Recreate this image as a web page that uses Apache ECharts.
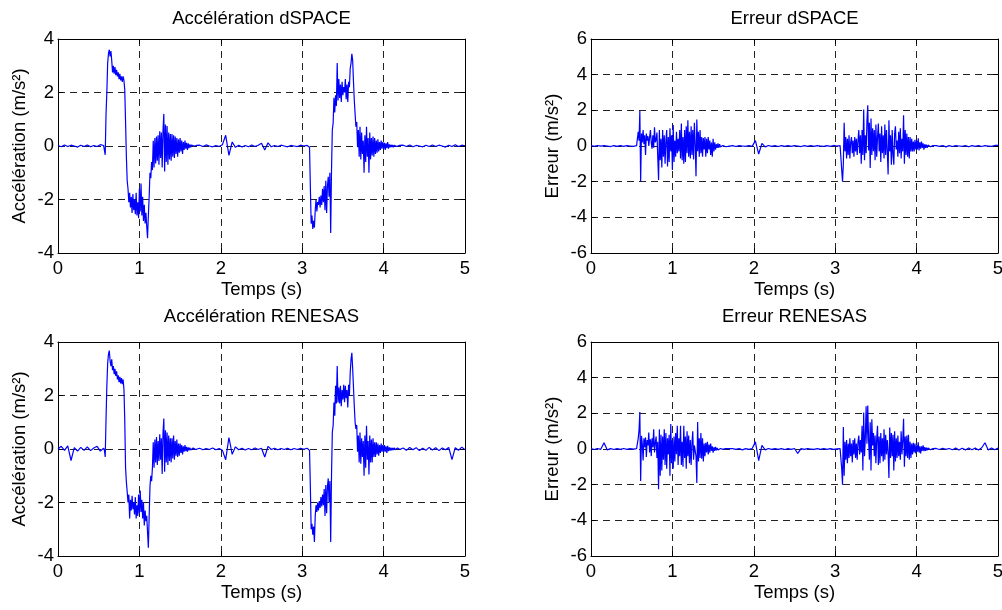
<!DOCTYPE html>
<html><head><meta charset="utf-8">
<script src="https://cdn.jsdelivr.net/npm/echarts@6/dist/echarts.min.js"></script>
<style>html,body{margin:0;padding:0;background:#fff}#c{width:1002px;height:610px}</style>
</head><body><div id="c"></div><script>
// sample times (s)
const T = [
0,0.04,0.08,0.12,0.16,0.20,0.24,0.28,0.32,0.36,0.40,0.44,0.48,0.52,
0.56,0.57,0.58,0.59,0.60,0.61,0.62,0.63,0.64,0.65,
0.66,0.67,0.68,0.69,0.70,0.71,0.72,0.73,0.74,0.75,
0.76,0.77,0.78,0.79,0.80,0.81,0.82,0.83,0.84,0.85,
0.86,0.87,0.88,0.89,0.90,0.91,0.92,0.93,0.94,0.95,
0.96,0.97,0.98,0.99,1.00,1.01,1.02,1.03,1.04,1.05,
1.06,1.07,1.08,1.09,1.10,1.11,1.12,1.13,1.14,1.15,
1.16,1.17,1.18,1.19,1.20,1.21,1.22,1.23,1.24,1.25,
1.26,1.27,1.28,1.29,1.30,1.31,1.32,1.33,1.34,1.35,
1.36,1.37,1.38,1.39,1.40,1.41,1.42,1.43,1.44,1.45,
1.46,1.47,1.48,1.49,1.50,1.51,1.52,1.53,1.54,1.55,
1.56,1.57,1.58,1.59,1.60,1.61,1.62,1.63,1.64,1.65,
1.66,1.67,1.68,1.69,1.70,
1.74,1.78,1.82,1.86,1.90,1.94,1.98,2.02,2.06,2.10,2.14,2.18,2.22,2.26,2.30,2.34,2.38,2.42,2.46,2.50,2.54,2.58,2.62,2.66,2.70,2.74,2.78,2.82,2.86,2.90,2.94,2.98,3.02,
3.06,3.07,3.08,3.09,3.10,3.11,3.12,3.13,3.14,3.15,
3.16,3.17,3.18,3.19,3.20,3.21,3.22,3.23,3.24,3.25,
3.26,3.27,3.28,3.29,3.30,3.31,3.32,3.33,3.34,3.35,
3.36,3.37,3.38,3.39,3.40,3.41,3.42,3.43,3.44,3.45,
3.46,3.47,3.48,3.49,3.50,3.51,3.52,3.53,3.54,3.55,
3.56,3.57,3.58,3.59,3.60,3.61,3.62,3.63,3.64,3.65,
3.66,3.67,3.68,3.69,3.70,3.71,3.72,3.73,3.74,3.75,
3.76,3.77,3.78,3.79,3.80,3.81,3.82,3.83,3.84,3.85,
3.86,3.87,3.88,3.89,3.90,3.91,3.92,3.93,3.94,3.95,
3.96,3.97,3.98,3.99,4.00,4.01,4.02,4.03,4.04,4.05,
4.06,4.07,4.08,4.09,4.10,4.11,4.12,4.13,4.14,4.15,
4.16,4.17,4.18,4.19,4.20,
4.24,4.28,4.32,4.36,4.40,4.44,4.48,4.52,4.56,4.60,4.64,4.68,4.72,4.76,4.80,4.84,4.88,4.92,4.96,5.00
];

// Accélération dSPACE (m/s²)
const accDSPACE = [
0.02,-0.03,0.04,-0.02,0.03,0.0,-0.04,0.03,-0.02,0.04,-0.03,0.02,-0.02,0.05,
0.02,-0.03,-0.33,1.2,2.0,3.1,3.45,3.6,3.35,3.55,
3.2,2.75,3.0,2.7,2.95,2.65,2.85,2.6,2.75,2.5,
2.7,2.45,2.6,2.4,2.6,2.45,2.1,0.9,-0.4,-1.3,
-1.6,-2.1,-1.75,-2.3,-1.9,-2.5,-1.8,-2.4,-2.0,-2.55,
-1.75,-2.6,-2.1,-2.7,-1.6,-2.45,-1.4,-2.6,-1.9,-2.8,
-2.2,-2.9,-2.5,-3.0,-3.45,-2.6,-1.9,-1.0,-1.2,-0.6,
-0.9,0.2,-0.8,0.3,-0.65,0.35,-0.55,0.4,-0.7,0.55,
-0.45,0.5,-0.8,0.6,1.2,-0.95,0.8,-0.6,0.75,-0.7,
0.5,-0.5,0.45,-0.55,0.45,-0.4,0.4,-0.45,0.35,-0.3,
0.3,-0.4,0.25,-0.25,0.3,-0.2,0.2,-0.3,0.15,-0.15,
0.2,-0.1,0.12,-0.15,0.1,-0.08,0.06,-0.05,0.04,-0.03,
0.05,0.0,0.03,-0.02,0.02,
0.03,-0.02,0.04,0.0,-0.03,0.02,-0.02,0.05,0.4,-0.35,0.15,-0.05,0.03,-0.04,0.02,-0.03,0.04,-0.02,0.03,0.1,-0.15,0.12,-0.03,0.02,-0.02,0.03,0.0,-0.03,0.02,0.0,-0.02,0.03,0.0,
0.02,-0.02,0.03,-0.05,-1.5,-2.9,-2.6,-3.1,-2.8,-3.05,
-2.4,-2.0,-2.45,-2.1,-2.2,-1.9,-2.3,-1.85,-2.2,-1.6,
-2.1,-1.5,-2.4,-1.3,-2.5,-1.5,-1.15,-1.9,-1.0,-3.25,
-0.9,0.6,0.85,1.8,1.25,1.9,1.5,3.1,1.7,2.5,
1.8,2.3,1.65,2.4,1.9,2.2,2.0,2.5,1.75,2.3,
1.65,2.4,2.2,2.9,3.1,3.45,3.2,2.4,1.7,1.2,
0.72,0.9,-0.05,0.6,-0.4,0.72,-0.5,0.5,-0.3,0.2,
-1.0,0.4,-0.6,0.72,-0.4,0.3,-1.0,0.5,-0.5,0.3,
-0.35,0.35,-0.4,0.3,-0.3,0.2,-0.25,0.25,-0.2,0.15,
-0.15,0.2,-0.1,0.15,-0.1,0.12,-0.15,0.1,-0.08,0.15,
-0.1,0.06,-0.05,0.05,-0.04,0.04,-0.05,0.03,-0.02,0.04,
-0.02,0.03,-0.01,0.02,0.0,
0.03,-0.02,0.04,-0.03,0.02,0.0,-0.03,0.03,-0.02,0.04,-0.02,0.03,0.0,-0.04,0.03,-0.02,0.05,-0.02,0.03,0.01
];

// Erreur dSPACE (m/s²)
const errDSPACE = [
0.02,-0.02,0.03,-0.01,0.02,0.0,-0.03,0.02,-0.02,0.03,-0.02,0.02,0.0,-0.02,
0.02,0.1,0.8,0.3,1.96,-1.98,0.7,0.2,0.9,0.1,
0.6,-0.5,0.7,0.3,0.55,0.0,0.5,0.9,0.2,-0.15,
0.6,-0.1,1.05,0.2,0.35,0.75,-0.6,-1.9,0.9,-0.8,
0.4,-1.2,0.9,-0.6,0.6,-1.0,0.3,0.9,-1.15,0.5,
-0.9,1.0,-0.3,0.6,-1.35,1.17,-0.9,0.3,-0.6,0.8,
-0.4,0.4,-0.3,0.9,-0.7,1.26,-0.8,0.5,-1.0,0.9,
-0.9,1.1,-0.4,1.44,-0.6,0.8,-0.7,1.1,-0.5,0.9,
-0.75,1.3,0.1,-1.7,1.48,-0.3,0.8,-0.6,0.9,-0.4,
0.5,-0.6,0.45,-0.2,0.5,-0.6,0.4,-0.4,0.5,-0.2,
0.3,-0.5,0.2,-0.6,0.4,-0.3,0.2,-0.2,0.1,-0.1,
0.15,-0.1,0.1,-0.05,0.04,-0.02,0.03,-0.02,0.02,-0.03,
0.02,0.0,-0.02,0.02,0.0,
0.02,-0.03,0.02,0.0,-0.02,0.03,-0.02,0.3,-0.45,0.15,-0.05,0.03,-0.02,0.02,-0.03,0.02,-0.02,0.03,-0.02,0.02,0.0,-0.03,0.02,-0.02,0.03,-0.02,0.02,0.0,-0.02,0.02,-0.02,0.03,0.0,
0.02,-0.02,0.05,-2.0,-1.0,1.3,-0.3,0.5,-0.7,0.4,
-0.5,0.6,-0.7,0.2,0.5,-0.4,0.3,-0.6,0.5,-0.3,
0.4,-0.5,0.3,0.9,-0.4,0.6,-1.0,0.9,-0.5,2.04,
-0.8,0.6,-0.4,1.4,2.28,-0.25,1.3,-1.24,1.54,-0.5,
1.0,-0.3,0.9,-0.8,1.2,-0.6,0.5,1.26,-0.3,0.7,
-0.9,1.1,-0.4,0.6,-0.7,1.2,-0.5,0.9,-0.3,-1.6,
1.44,-0.3,0.6,-1.05,0.9,-0.5,-1.05,0.7,1.1,-0.2,
0.3,-0.6,0.8,-0.4,1.0,-0.7,0.4,-0.3,1.72,-1.0,
0.9,-0.5,0.7,-0.6,0.5,-0.7,0.5,-0.3,0.4,-0.3,
0.25,-0.3,0.35,-0.2,0.3,-0.2,0.43,-0.25,0.2,-0.15,
0.25,-0.1,0.15,-0.2,0.1,-0.1,0.08,-0.1,0.05,-0.05,
0.06,-0.04,0.03,-0.03,0.02,
0.02,-0.02,0.03,-0.05,0.02,-0.03,0.02,0.0,-0.02,0.03,-0.04,0.02,-0.02,0.03,-0.03,0.02,0.0,-0.02,0.03,0.04
];

// Accélération RENESAS (m/s²)
const accRENESAS = [
0.0,0.1,-0.05,0.12,-0.43,0.05,-0.08,0.06,-0.05,0.08,-0.06,0.04,0.1,-0.08,
0.03,-0.05,-0.3,1.1,2.36,3.2,3.54,3.68,3.3,3.1,
3.35,2.95,3.1,2.8,3.0,2.73,2.9,2.6,2.75,2.5,
2.7,2.45,2.65,2.42,2.6,2.24,1.1,-0.7,-1.24,-1.6,
-2.0,-1.7,-2.6,-1.9,-2.3,-1.75,-2.25,-2.0,-2.45,-1.8,
-2.6,-2.1,-2.5,-1.7,-2.4,-1.55,-2.35,-1.9,-2.6,-2.0,
-2.86,-2.3,-2.7,-2.5,-3.1,-3.69,-2.5,-1.4,-1.0,-1.2,
-0.7,0.25,-0.7,0.35,-0.5,0.45,-0.6,0.3,-0.45,0.55,
-0.4,0.4,-0.93,0.6,1.14,-0.85,0.7,-0.5,0.62,-0.6,
0.5,-0.45,0.4,-0.5,0.4,-0.35,0.5,-0.4,0.3,-0.25,
0.35,-0.3,0.2,-0.25,0.2,-0.15,0.15,-0.2,0.1,-0.1,
0.15,-0.08,0.08,-0.1,0.06,-0.05,0.05,-0.04,0.03,-0.03,
0.04,-0.02,0.02,-0.02,0.01,
0.03,-0.03,0.02,-0.02,0.04,-0.03,0.02,-0.05,-0.4,0.43,-0.2,0.08,-0.03,0.03,-0.04,0.02,-0.03,0.04,-0.02,0.03,-0.3,0.1,-0.02,0.03,-0.03,0.02,-0.02,0.03,-0.03,0.02,-0.02,0.03,-0.01,
0.03,-0.03,0.02,-0.05,-1.37,-3.0,-2.8,-3.2,-2.9,-3.48,
-2.5,-2.1,-2.35,-2.0,-2.3,-1.95,-2.2,-1.8,-2.15,-1.7,
-2.1,-1.5,-2.5,-1.35,-2.4,-1.4,-1.1,-2.0,-1.2,-3.48,
-1.0,0.62,0.87,1.74,1.24,2.36,1.7,3.1,1.74,2.3,
1.7,2.36,1.6,2.2,1.85,2.4,1.75,2.36,1.9,2.2,
1.55,2.4,2.0,2.86,3.35,3.6,3.0,2.3,1.6,1.0,
0.75,0.9,-0.1,0.5,-0.5,0.62,-0.55,0.4,-0.3,0.3,
-1.0,0.5,-0.7,0.87,-0.4,0.3,-0.95,0.5,-0.5,0.35,
-0.5,0.4,-0.3,0.25,-0.3,0.25,-0.2,0.2,-0.25,0.15,
-0.15,0.2,-0.1,0.15,-0.12,0.15,-0.1,0.1,-0.15,0.12,
-0.08,0.06,-0.06,0.05,-0.05,0.04,-0.04,0.05,-0.03,0.03,
-0.03,0.04,-0.02,0.02,-0.02,
0.04,-0.05,0.06,-0.03,0.05,-0.06,0.03,-0.05,0.06,-0.04,0.05,-0.06,0.04,-0.03,0.06,-0.4,0.05,-0.05,0.07,-0.03
];

// Erreur RENESAS (m/s²)
const errRENESAS = [
0.02,-0.03,0.03,-0.02,0.35,-0.05,0.02,-0.03,0.02,-0.02,0.03,-0.02,0.02,-0.01,
0.02,0.1,0.6,1.06,2.07,-1.8,0.74,0.3,-0.65,0.6,
0.1,0.65,-0.45,0.5,0.2,0.93,-0.2,0.55,-0.4,0.6,
0.1,1.1,-0.2,0.35,0.7,-0.5,0.4,-2.26,1.1,-1.5,
0.8,-1.2,0.7,-0.6,1.1,-0.9,0.9,-1.1,0.6,-0.3,
0.8,-1.5,1.4,-0.8,0.5,-1.1,0.7,-0.7,0.9,-0.3,
1.3,-0.9,0.6,-0.4,1.3,-0.9,0.4,-1.0,1.3,-0.5,
0.7,-1.1,1.0,-0.4,0.75,-0.8,0.5,-0.9,0.3,1.0,
-0.6,0.2,0.2,-0.4,-1.9,1.52,-0.7,0.6,-0.5,0.9,
-0.55,0.6,-0.7,0.3,-0.4,0.35,-0.2,0.4,-0.3,0.25,
-0.2,0.3,-0.1,0.15,-0.2,0.1,-0.1,0.12,-0.08,0.06,
-0.06,0.05,-0.04,0.03,-0.03,0.02,-0.02,0.03,-0.02,0.02,
0.0,-0.02,0.02,-0.01,0.01,
0.02,-0.02,0.03,-0.05,0.02,-0.02,0.03,0.4,-0.65,0.2,-0.05,0.03,-0.02,0.02,-0.02,0.02,-0.03,0.02,-0.02,0.03,-0.25,0.02,-0.02,0.02,0.0,-0.02,0.02,-0.02,0.03,-0.02,0.02,-0.02,0.01,
0.02,-0.02,-1.1,-2.0,1.24,-1.5,0.4,-0.6,0.5,-0.8,
0.3,-0.5,0.6,-0.4,0.3,-0.75,0.5,-0.3,0.6,-0.5,
0.3,-0.6,0.4,0.75,-0.3,0.5,-0.2,1.3,-1.2,2.04,
-0.4,0.6,2.4,0.3,2.44,0.55,-0.6,1.5,-1.2,1.67,
0.2,0.9,-0.4,0.75,-0.8,0.6,1.3,-0.9,0.7,-0.8,
0.9,-0.4,0.6,-0.7,1.1,-0.6,0.8,-0.3,0.5,-0.2,
-1.63,1.2,-0.5,0.9,-0.4,0.8,-1.2,1.0,-0.7,0.6,
-0.5,0.75,-0.4,0.4,-0.6,1.0,-0.3,0.5,1.7,-1.0,
0.7,-0.4,0.75,-0.5,0.8,-0.6,0.4,-0.5,0.3,-0.3,
0.35,-0.2,0.3,-0.25,0.2,-0.15,0.37,-0.2,0.15,-0.25,
0.15,-0.1,0.2,-0.12,0.1,-0.1,0.08,-0.08,0.06,-0.05,
0.05,-0.04,0.03,-0.03,0.02,
0.03,-0.03,0.04,-0.02,0.03,-0.04,0.05,-0.06,0.04,-0.05,0.06,-0.04,0.05,-0.06,0.07,0.35,-0.05,0.06,-0.04,0.05
];

const titles = ['Accélération dSPACE', 'Erreur dSPACE', 'Accélération RENESAS', 'Erreur RENESAS'];
const yNames = ['Accélération (m/s²)', 'Erreur (m/s²)', 'Accélération (m/s²)', 'Erreur (m/s²)'];
const xName = 'Temps (s)';
const xMin = 0, xMax = 5, xStep = 1;
const yMins = [-4, -6, -4, -6];
const yMaxs = [4, 6, 4, 6];
const yStep = 2;
const seriesValues = [accDSPACE, errDSPACE, accRENESAS, errRENESAS];

const FONT = 'Liberation Sans, Arial, Helvetica, sans-serif';
const FS = 18.5;
const gridBoxes = [
  {left: 58, top: 39, width: 407, height: 214},
  {left: 591, top: 39, width: 407, height: 214},
  {left: 58, top: 342, width: 407, height: 214},
  {left: 591, top: 342, width: 407, height: 214}
];
const titleTops = [9, 9, 307, 307];

const grid = [], xAxis = [], yAxis = [], series = [], title = [];
const axLine = {show: true, onZero: false, lineStyle: {color: '#000', width: 1}};
const tick = {show: true, inside: true, length: 5, lineStyle: {color: '#000', width: 1}};
const dash = {show: true, lineStyle: {color: '#222', width: 1, type: [7, 5]}};

for (let i = 0; i < 4; i++) {
  const g = gridBoxes[i];
  grid.push(Object.assign({containLabel: false, outerBoundsMode: 'none', show: false}, g));
  title.push({
    text: titles[i], left: g.left + g.width / 2, top: titleTops[i], textAlign: 'center', padding: 0,
    textStyle: {fontFamily: FONT, fontSize: FS, fontWeight: 'normal', color: '#000'}
  });
  xAxis.push({
    gridIndex: i, type: 'value', position: 'bottom', min: xMin, max: xMax, interval: xStep,
    axisLine: axLine, axisTick: tick, splitLine: dash,
    axisLabel: {color: '#000', fontFamily: FONT, fontSize: FS, margin: 6},
    name: xName, nameLocation: 'middle', nameGap: 27,
    nameTextStyle: {color: '#000', fontFamily: FONT, fontSize: FS}
  });
  xAxis.push({
    gridIndex: i, type: 'value', position: 'top', min: xMin, max: xMax, interval: xStep,
    axisLine: axLine, axisTick: tick, splitLine: {show: false}, axisLabel: {show: false}
  });
  yAxis.push({
    gridIndex: i, type: 'value', position: 'left', min: yMins[i], max: yMaxs[i], interval: yStep,
    axisLine: axLine, axisTick: tick, splitLine: dash,
    axisLabel: {color: '#000', fontFamily: FONT, fontSize: FS, margin: 4},
    name: yNames[i], nameLocation: 'middle', nameGap: 29, nameRotate: 90,
    nameTextStyle: {color: '#000', fontFamily: FONT, fontSize: FS}
  });
  yAxis.push({
    gridIndex: i, type: 'value', position: 'right', min: yMins[i], max: yMaxs[i], interval: yStep,
    axisLine: axLine, axisTick: tick, splitLine: {show: false}, axisLabel: {show: false}
  });
  const vals = seriesValues[i];
  series.push({
    type: 'line', xAxisIndex: 2 * i, yAxisIndex: 2 * i,
    data: T.map((t, k) => [t, vals[k]]),
    showSymbol: false, symbol: 'none', silent: true,
    lineStyle: {color: '#0000ff', width: 1.2}, z: 3
  });
}

const chart = echarts.init(document.getElementById('c'), null, {renderer: 'canvas'});
chart.setOption({animation: false, backgroundColor: '#fff', title, grid, xAxis, yAxis, series});
</script></body></html>
